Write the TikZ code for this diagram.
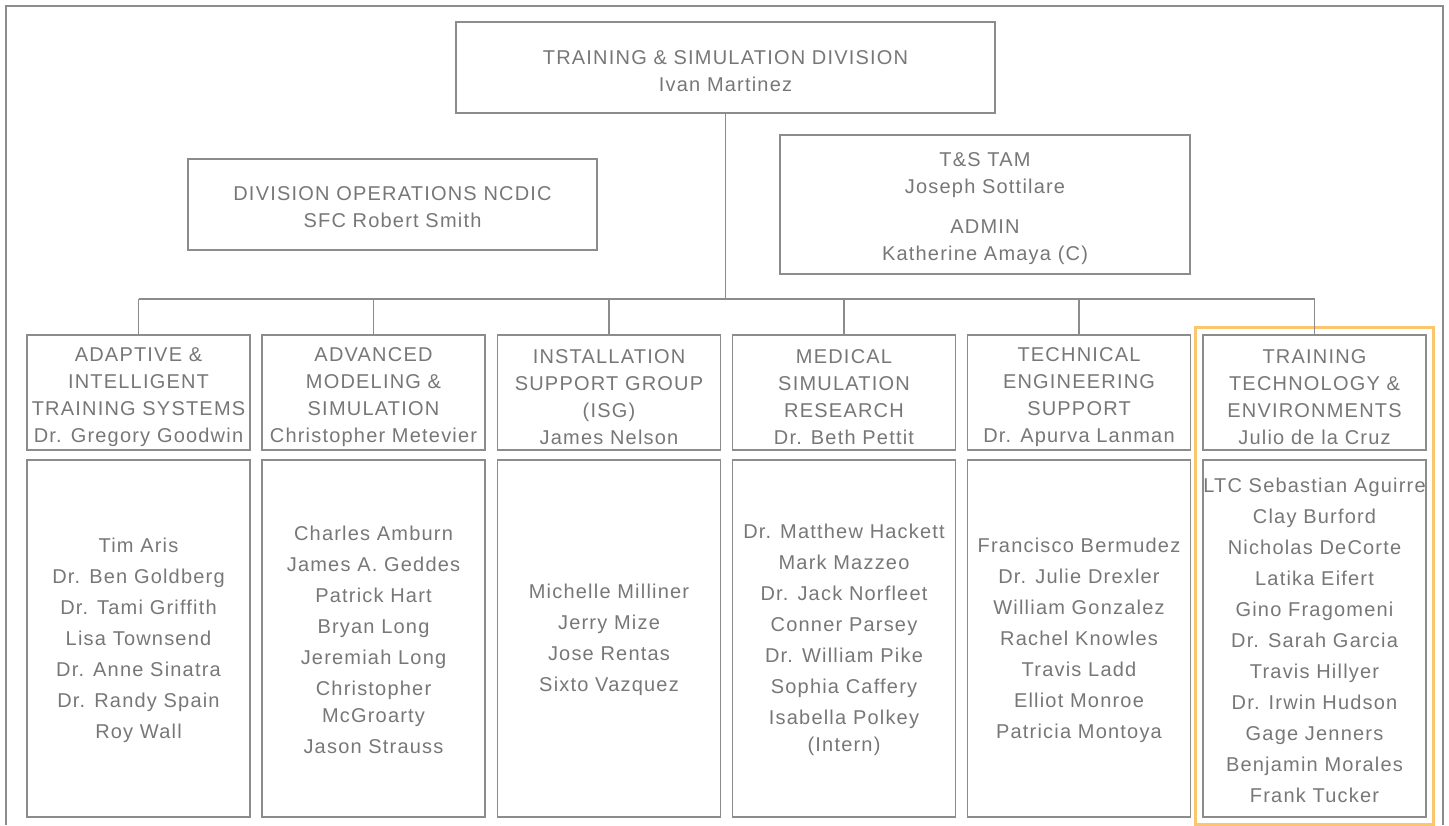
\documentclass[tikz,border=0pt]{standalone}
\usepackage{fontspec}
\setmainfont{Liberation Sans}[LetterSpace=6]
\usepackage{tikz}
\usetikzlibrary{positioning,fit}
\usepackage{xcolor}
\definecolor{linegray}{HTML}{8C8C8C}
\definecolor{textgray}{HTML}{77777A}
\definecolor{highlight}{HTML}{FCC66E}
% invisible strut that pushes the first line down
\newcommand\up[1]{\rule{0pt}{#1bp}}

\begin{document}
\begin{tikzpicture}[x=1bp, y=-1bp,
    box/.style={draw=linegray, line width=1.2bp, text=textgray, align=center, inner sep=0pt,
      font=\fontsize{20bp}{27bp}\selectfont},
    head/.style={box, minimum width=223bp, minimum height=115bp},
    team/.style={box, minimum width=223bp, minimum height=357bp},
    link/.style={draw=linegray, line width=1.2bp}]
        \useasboundingbox (0,0) rectangle (1449,825);

        % Outer frame, open at the bottom
        \draw[link] (6,825) -- (6,6) -- (1443,6) -- (1443,825);

        % Division head and staff
        \node[box, minimum width=539bp, minimum height=91bp] (tsd) at (725.5,67.5)
            {\up{21}TRAINING \& SIMULATION DIVISION\\Ivan Martinez};
        \node[box, minimum width=409bp, minimum height=91bp] (ncdic) at (392.5,204.5)
            {\up{19}DIVISION OPERATIONS NCDIC\\SFC Robert Smith};
        \node[box, minimum width=410bp, minimum height=139bp] (tam) at (985,204.5)
            {\up{23}T\&S TAM\\Joseph Sottilare\\[13bp]ADMIN\\Katherine Amaya (C)};

        % Branch headers
        \node[head] (aits) at (138.5,392.5) {\up{24}ADAPTIVE \&\\INTELLIGENT\\TRAINING SYSTEMS\\Dr. Gregory Goodwin};
        \node[head] (ams) at (373.5,392.5) {\up{24}ADVANCED\\MODELING \&\\SIMULATION\\Christopher Metevier};
        \node[head] (isg) at (609,392.5) {\up{24}INSTALLATION\\SUPPORT GROUP\\(ISG)\\James Nelson};
        \node[head] (msr) at (844,392.5) {\up{24}MEDICAL\\SIMULATION\\RESEARCH\\Dr. Beth Pettit};
        \node[head] (tes) at (1079,392.5) {\up{24}TECHNICAL\\ENGINEERING\\SUPPORT\\Dr. Apurva Lanman};
        \node[head] (tte) at (1314.5,392.5) {\up{24}TRAINING\\TECHNOLOGY \&\\ENVIRONMENTS\\Julio de la Cruz};

        % Branch members
        \node[team] (aitsteam) at (138.5,638.5) {\up{18}Tim Aris\\[4bp]Dr. Ben Goldberg\\[4bp]Dr. Tami Griffith\\[4bp]Lisa Townsend\\[4bp]Dr. Anne Sinatra\\[4bp]Dr. Randy Spain\\[4bp]Roy Wall};
        \node[team] (amsteam) at (373.5,638.5) {\up{18}Charles Amburn\\[4bp]James A. Geddes\\[4bp]Patrick Hart\\[4bp]Bryan Long\\[4bp]Jeremiah Long\\[4bp]Christopher\\McGroarty\\[4bp]Jason Strauss};
        \node[team] (isgteam) at (609,638.5) {\up{18}Michelle Milliner\\[4bp]Jerry Mize\\[4bp]Jose Rentas\\[4bp]Sixto Vazquez};
        \node[team] (msrteam) at (844,638.5) {\up{18}Dr. Matthew Hackett\\[4bp]Mark Mazzeo\\[4bp]Dr. Jack Norfleet\\[4bp]Conner Parsey\\[4bp]Dr. William Pike\\[4bp]Sophia Caffery\\[4bp]Isabella Polkey\\(Intern)};
        \node[team] (testeam) at (1079,638.5) {\up{18}Francisco Bermudez\\[4bp]Dr. Julie Drexler\\[4bp]William Gonzalez\\[4bp]Rachel Knowles\\[4bp]Travis Ladd\\[4bp]Elliot Monroe\\[4bp]Patricia Montoya};
        \node[team] (tteteam) at (1314.5,638.5) {\up{18}LTC Sebastian Aguirre\\[4bp]Clay Burford\\[4bp]Nicholas DeCorte\\[4bp]Latika Eifert\\[4bp]Gino Fragomeni\\[4bp]Dr. Sarah Garcia\\[4bp]Travis Hillyer\\[4bp]Dr. Irwin Hudson\\[4bp]Gage Jenners\\[4bp]Benjamin Morales\\[4bp]Frank Tucker};

        % Highlight
        \node[draw=highlight, line width=3bp, inner sep=7bp, fit=(tte)(tteteam)] (focus) {};

        % Connectors
        \coordinate (bus) at (727,299);
        \draw[link] (tsd.south) -- (tsd.south |- bus);
        \draw[link] (aits.north |- bus) -- (tte.north |- bus);
        \foreach \b in {aits,ams,isg,msr,tes,tte}
            \draw[link] (\b.north |- bus) -- (\b.north);
\end{tikzpicture}
\end{document}
